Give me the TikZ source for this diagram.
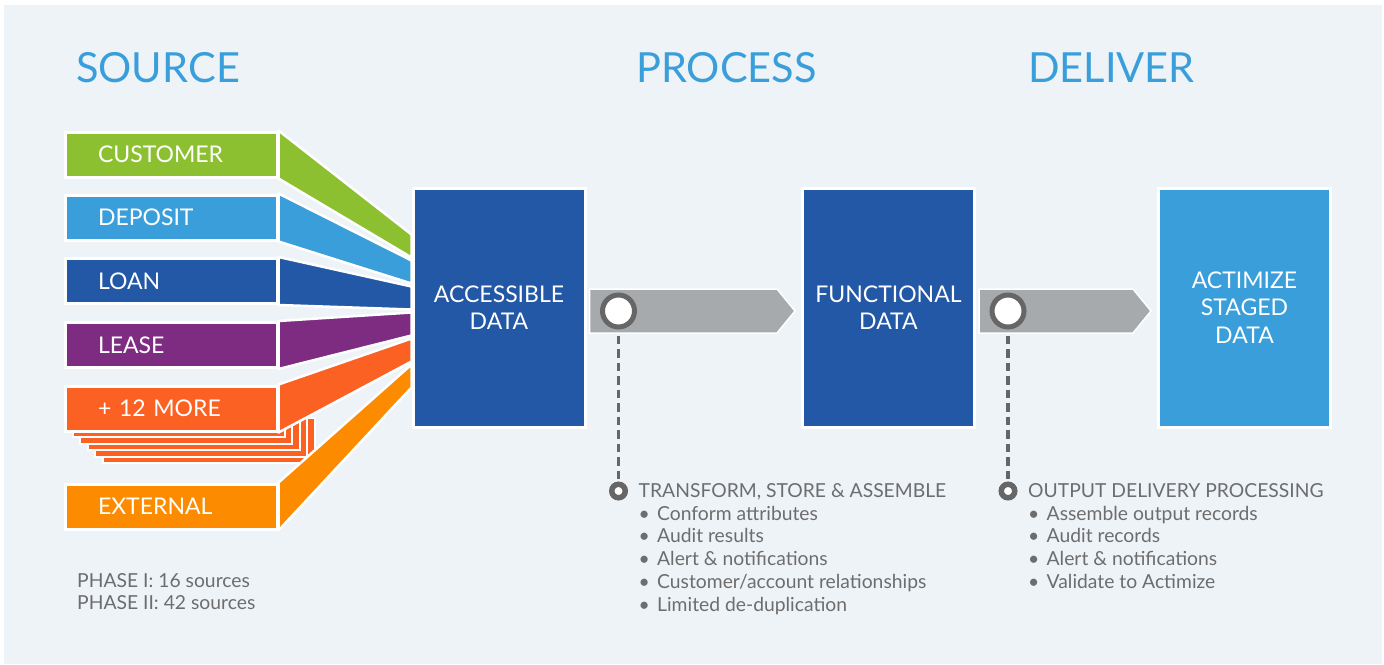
\documentclass[tikz,border=0pt]{standalone}
\usepackage{fontspec}
\setmainfont{Lato}
\usetikzlibrary{calc}

\definecolor{cBg}{HTML}{EEF3F8}
\definecolor{cGreen}{HTML}{8CC031}
\definecolor{cSky}{HTML}{3A9EDA}
\definecolor{cNavy}{HTML}{2258A5}
\definecolor{cPurple}{HTML}{7D2C81}
\definecolor{cRed}{HTML}{FB6123}
\definecolor{cOrange}{HTML}{FD8B00}
\definecolor{cArrow}{HTML}{A7AAAD}
\definecolor{cRing}{HTML}{666666}
\definecolor{cText}{HTML}{6D6D6D}

\newcommand{\itembul}{\makebox[18.5pt][l]{\textbullet}}

\tikzset{
	srcbox/.style={draw=white, line width=3pt, minimum height=45pt, text width=146pt,
		inner xsep=33pt, inner ysep=0pt, align=left, text=white, font=\fontsize{23}{27}\selectfont},
	databox/.style={draw=white, line width=3pt, minimum width=172pt, minimum height=239pt,
		align=center, text=white, font=\fontsize{23}{27.5}\selectfont},
	stack/.style={fill=cRed, draw=white, line width=2pt},
	fan/.style={draw=white, line width=2.5pt, line join=round},
	flow/.style={fill=cArrow, draw=white, line width=1.5pt},
	ring/.style={circle, draw=cRing, fill=white, line width=5pt, minimum size=32pt, inner sep=0pt},
	dot/.style={circle, draw=cRing, fill=white, line width=5.5pt, minimum size=13.5pt, inner sep=0pt},
	lead/.style={cRing, line width=3.2pt, dash pattern=on 8.5pt off 5pt, shorten <=6pt},
	heading/.style={anchor=base west, inner sep=0pt, text=cSky, font=\fontsize{41.5}{50}\selectfont},
	note/.style={anchor=base west, inner sep=0pt, text=cText, font=\fontsize{19.3}{23}\selectfont},
}

\begin{document}
\begin{tikzpicture}[x=1pt, y=-1pt]
	% page and background
	\useasboundingbox (0,0) rectangle (1384,664);
	\fill[white] (0,0) rectangle (1384,664);
	\fill[cBg] (4,5) rectangle (1382,664);
	% headings
	\node[heading] (source) at (76,82) {SOURCE};
	\node[heading] (process) at (636,82) {PROCESS};
	\node[heading] (deliver) at (1028,82) {DELIVER};
	% the pile behind + 12 more
	\filldraw[stack] (103,418) rectangle ++(212,45);
	\filldraw[stack] (95.4,411.6) rectangle ++(212,45);
	\filldraw[stack] (87.8,405.2) rectangle ++(212,45);
	\filldraw[stack] (80.2,398.8) rectangle ++(212,45);
	\filldraw[stack] (72.6,392.4) rectangle ++(212,45);
	% source boxes
	\node[srcbox, fill=cGreen] (customer) at (171,154.5) {CUSTOMER};
	\node[srcbox, fill=cSky] (deposit) at (171,217.5) {DEPOSIT};
	\node[srcbox, fill=cNavy] (loan) at (171,281) {LOAN};
	\node[srcbox, fill=cPurple] (lease) at (171,345) {LEASE};
	\node[srcbox, fill=cRed] (more) at (171,408.5) {+ 12 MORE};
	\node[srcbox, fill=cOrange] (external) at (171,506.5) {EXTERNAL};
	% the three data boxes
	\node[databox, fill=cNavy] (acc) at (499,307.5) {ACCESSIBLE\\DATA};
	\node[databox, fill=cNavy] (func) at (888.5,307.5) {FUNCTIONAL\\DATA};
	\node[databox, fill=cSky] (act) at (1244.5,307.5) {ACTIMIZE\\STAGED\\DATA};
	% fans from the sources into the first box
	\filldraw[fan, fill=cGreen] (customer.north east) -- ($(acc.north west)+(0,48)$) -- ($(acc.north west)+(0,71)$) -- (customer.south east) -- cycle;
	\filldraw[fan, fill=cSky] (deposit.north east) -- ($(acc.north west)+(0,74)$) -- ($(acc.north west)+(0,97)$) -- (deposit.south east) -- cycle;
	\filldraw[fan, fill=cNavy] (loan.north east) -- ($(acc.north west)+(0,100)$) -- ($(acc.north west)+(0,123)$) -- (loan.south east) -- cycle;
	\filldraw[fan, fill=cPurple] (lease.north east) -- ($(acc.north west)+(0,126)$) -- ($(acc.north west)+(0,149)$) -- (lease.south east) -- cycle;
	\filldraw[fan, fill=cRed] (more.north east) -- ($(acc.north west)+(0,152)$) -- ($(acc.north west)+(0,175)$) -- (more.south east) -- cycle;
	\filldraw[fan, fill=cOrange] (external.north east) -- ($(acc.north west)+(0,178)$) -- ($(acc.north west)+(0,201)$) -- (external.south east) -- cycle;
	% grey arrows between the boxes
	\filldraw[flow] ($(acc.east)+(3,-18.5)$) -- ($(func.west)+(-24,-18.5)$) -- ($(func.west)+(-6,3.5)$) -- ($(func.west)+(-24,25.5)$) -- ($(acc.east)+(3,25.5)$) -- cycle;
	\filldraw[flow] ($(func.east)+(3,-18.5)$) -- ($(act.west)+(-24,-18.5)$) -- ($(act.west)+(-6,3.5)$) -- ($(act.west)+(-24,25.5)$) -- ($(func.east)+(3,25.5)$) -- cycle;
	% rings on the arrows and the dashed leads
	\node[ring] (ring1) at ($(acc.east)+(32,3.5)$) {};
	\node[dot] (dot1) at ($(acc.east)+(32,183.5)$) {};
	\draw[lead] (ring1) -- (dot1);
	\node[ring] (ring2) at ($(func.east)+(32,3.5)$) {};
	\node[dot] (dot2) at ($(func.east)+(32,183.5)$) {};
	\draw[lead] (ring2) -- (dot2);
	% process notes
	\node[note] (tsa) at ($(dot1)+(20,6.5)$) {TRANSFORM, STORE \& ASSEMBLE};
	\node[note] (tsa1) at ($(tsa.base west)+(0,22.7)$) {\itembul Conform attributes};
	\node[note] (tsa2) at ($(tsa1.base west)+(0,22.7)$) {\itembul Audit results};
	\node[note] (tsa3) at ($(tsa2.base west)+(0,22.7)$) {\itembul Alert \& notifications};
	\node[note] (tsa4) at ($(tsa3.base west)+(0,22.7)$) {\itembul Customer/account relationships};
	\node[note] (tsa5) at ($(tsa4.base west)+(0,22.7)$) {\itembul Limited de-duplication};
	% delivery notes
	\node[note] (odp) at ($(dot2)+(20,6.5)$) {OUTPUT DELIVERY PROCESSING};
	\node[note] (odp1) at ($(odp.base west)+(0,22.7)$) {\itembul Assemble output records};
	\node[note] (odp2) at ($(odp1.base west)+(0,22.7)$) {\itembul Audit records};
	\node[note] (odp3) at ($(odp2.base west)+(0,22.7)$) {\itembul Alert \& notifications};
	\node[note] (odp4) at ($(odp3.base west)+(0,22.7)$) {\itembul Validate to Actimize};
	% phases
	\node[note] (phase1) at (77,587) {PHASE I: 16 sources};
	\node[note] (phase2) at ($(phase1.base west)+(0,22.7)$) {PHASE II: 42 sources};
\end{tikzpicture}
\end{document}
